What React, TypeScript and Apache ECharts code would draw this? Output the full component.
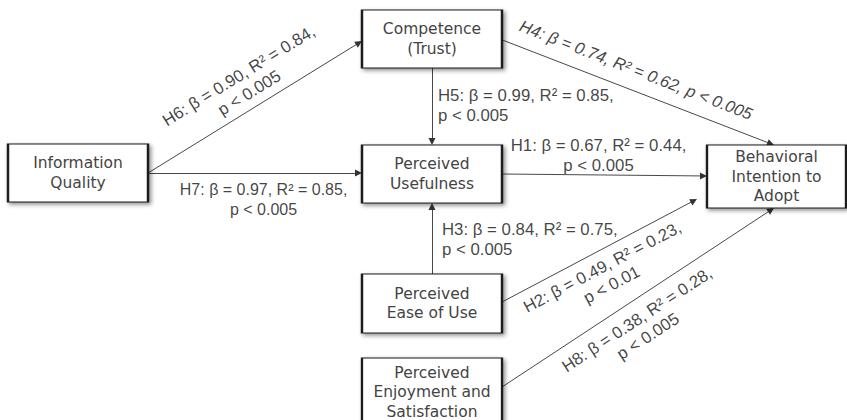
import React, { useEffect, useRef } from "react";
import * as echarts from "echarts";

// ---- Nodes (constructs) ----
const nodeLabels = [
  "Information\nQuality",
  "Competence\n(Trust)",
  "Perceived\nUsefulness",
  "Perceived\nEase of Use",
  "Perceived\nEnjoyment and\nSatisfaction",
  "Behavioral\nIntention to\nAdopt",
];
const nodeCx = [78, 432, 432, 432, 432, 776.5];
const nodeCy = [173, 39, 174, 303.5, 392, 176.5];
const nodeW = [140, 140, 140, 140, 140, 139];
const nodeH = [58, 58, 58, 59, 68, 63];

// ---- Edges (hypotheses) ----
const edgeSource = [0, 0, 1, 1, 2, 3, 3, 4];
const edgeTarget = [1, 2, 2, 5, 5, 2, 5, 5];
const edgeHypothesis = ["H6", "H7", "H5", "H4", "H1", "H3", "H2", "H8"];
const edgeBeta = [0.9, 0.97, 0.99, 0.74, 0.67, 0.84, 0.49, 0.38];
const edgeR2 = [0.84, 0.85, 0.85, 0.62, 0.44, 0.75, 0.23, 0.28];
const edgeP = ["0.005", "0.005", "0.005", "0.005", "0.005", "0.005", "0.01", "0.005"];

// ---- Layout of edges / labels (box-relative anchors, -1..1) ----
const srcAnchor = [[1, 0], [1, 0], [0, 1], [1, 0.03], [1, 0], [0, -1], [1, -0.05], [1, -0.147]];
const tgtAnchor = [[-1, 0.07], [-1, -0.035], [0, -1], [-0.036, -1], [-1, -0.016], [0, 1], [-1.144, 0.715], [-0.036, 1]];
const labelT = [0.51, 0.54, 0.49, 0.466, 0.47, 0.48, 0.476, 0.46];
const labelOffset = [-25, 27, -6, -20, -19, 10, 26, 28];
const labelAlong = [true, false, false, true, false, false, true, true];
const labelAlign = ["center", "center", "left", "center", "center", "left", "center", "center"];
const labelOneLine = [false, false, false, true, false, false, false, false];
const labelItalic = [false, false, false, true, false, false, false, false];
const labelFontSize = [16.8, 16, 16.8, 16.6, 16.8, 16.8, 16.8, 16.8];

export default function App() {
  const ref = useRef<HTMLDivElement>(null);
  useEffect(() => {
    const chart = echarts.init(ref.current!, undefined, { renderer: "svg" });
    const anchor = (n: number, a: number[]) => [
      nodeCx[n] + (a[0] * nodeW[n]) / 2,
      nodeCy[n] + (a[1] * nodeH[n]) / 2,
    ];
    const ARROW = 7;
    const edgeLines: any[] = [];
    const labelPts: any[] = [];
    for (let i = 0; i < edgeSource.length; i++) {
      const p1 = anchor(edgeSource[i], srcAnchor[i]);
      const p2 = anchor(edgeTarget[i], tgtAnchor[i]);
      const dx = p2[0] - p1[0];
      const dy = p2[1] - p1[1];
      const len = Math.hypot(dx, dy);
      const ux = dx / len;
      const uy = dy / len;
      const end = [p2[0] - (ux * ARROW) / 2, p2[1] - (uy * ARROW) / 2];
      edgeLines.push({ coords: [p1, end] });
      const nx = -uy;
      const ny = ux;
      const lx = p1[0] + dx * labelT[i] + nx * labelOffset[i];
      const ly = p1[1] + dy * labelT[i] + ny * labelOffset[i];
      const rot = labelAlong[i] ? (-Math.atan2(dy, dx) * 180) / Math.PI : 0;
      const sep = labelOneLine[i] ? " " : "\n";
      const text = `${edgeHypothesis[i]}: β = ${edgeBeta[i].toFixed(2)}, R² = ${edgeR2[i].toFixed(2)},${sep}p < ${edgeP[i]}`;
      labelPts.push({
        name: text,
        value: [lx, ly],
        label: {
          rotate: rot,
          align: labelAlign[i],
          fontSize: labelFontSize[i],
          fontStyle: labelItalic[i] ? "italic" : "normal",
        },
      });
    }

    chart.setOption({
      animation: false,
      backgroundColor: "#ffffff",
      grid: { left: 0, right: 0, top: 0, bottom: 0 },
      xAxis: { type: "value", min: 0, max: 847, show: false },
      yAxis: { type: "value", min: 0, max: 420, inverse: true, show: false },
      series: [
        {
          type: "lines",
          coordinateSystem: "cartesian2d",
          silent: true,
          z: 1,
          symbol: ["none", "triangle"],
          symbolSize: ARROW,
          itemStyle: { color: "#333" },
          lineStyle: { color: "#333", width: 0.9, opacity: 1 },
          data: edgeLines,
        },
        {
          type: "scatter",
          silent: true,
          z: 2,
          clip: false,
          symbol: "rect",
          itemStyle: {
            color: "#ffffff",
            borderColor: "#1c1c1c",
            borderWidth: 1.6,
            shadowColor: "rgba(0,0,0,0.45)",
            shadowBlur: 4,
            shadowOffsetX: 2,
            shadowOffsetY: 2,
            opacity: 1,
          },
          label: {
            show: true,
            position: "inside",
            formatter: "{b}",
            fontFamily: "'DejaVu Sans', sans-serif",
            fontSize: 15.5,
            lineHeight: 19.5,
            color: "#444",
          },
          data: nodeLabels.map((name, i) => ({
            name,
            value: [nodeCx[i], nodeCy[i]],
            symbolSize: [nodeW[i], nodeH[i]],
          })),
        },
        {
          type: "scatter",
          silent: true,
          z: 3,
          clip: false,
          symbolSize: 1,
          itemStyle: { color: "rgba(0,0,0,0)" },
          label: {
            show: true,
            position: "inside",
            formatter: "{b}",
            fontFamily: "'Liberation Sans', Arial, Helvetica, sans-serif",
            fontSize: 16.8,
            lineHeight: 20,
            color: "#111",
            verticalAlign: "middle",
          },
          data: labelPts,
        },
      ],
    });
    return () => chart.dispose();
  }, []);
  return (
    <div
      ref={ref}
      style={{ position: "fixed", left: 0, top: 0, width: 847, height: 420 }}
    />
  );
}
